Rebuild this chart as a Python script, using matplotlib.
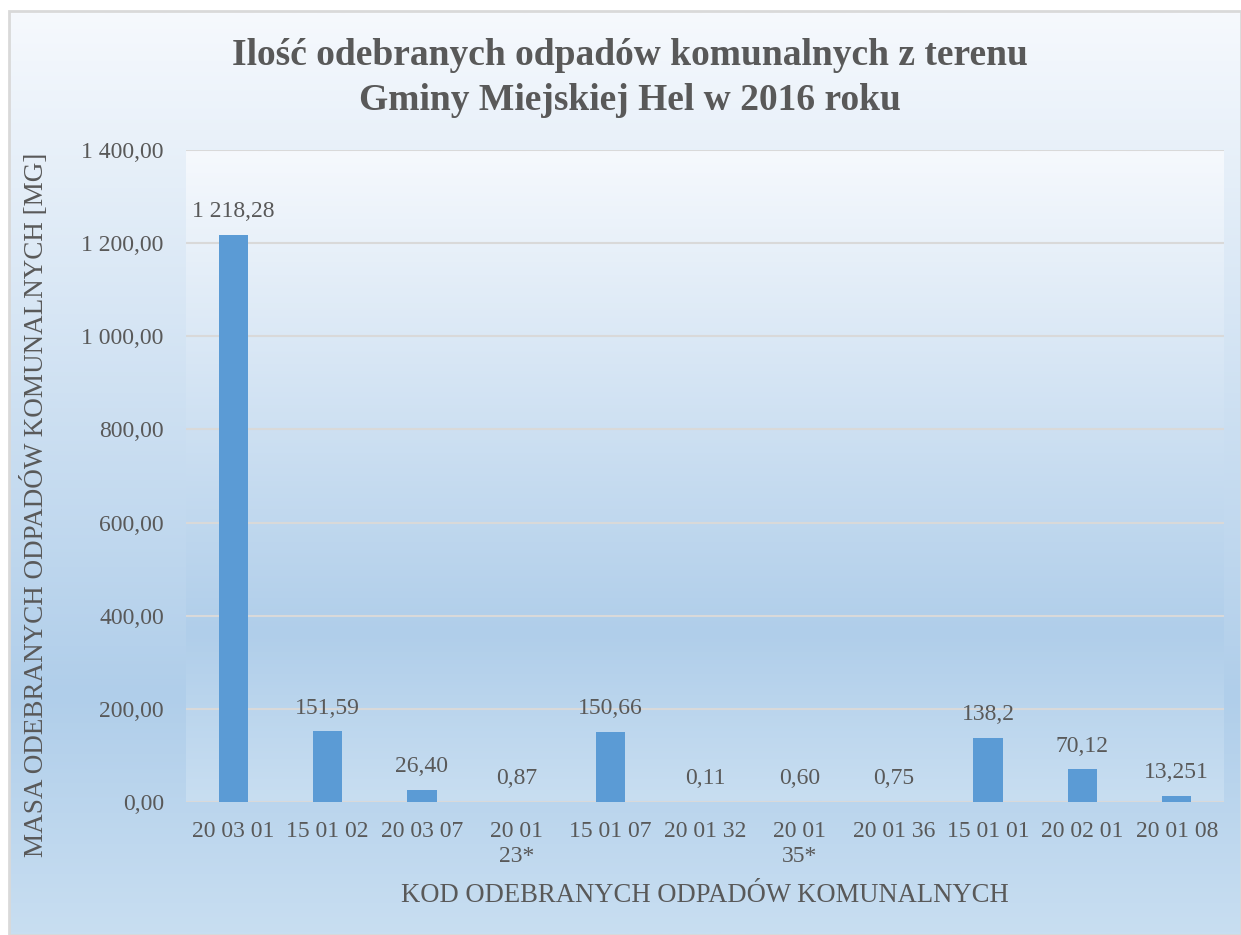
import numpy as np
import matplotlib
matplotlib.use("Agg")
import matplotlib.pyplot as plt
from matplotlib.colors import LinearSegmentedColormap
from matplotlib.patches import Rectangle

categories = ["20 03 01", "15 01 02", "20 03 07", "20 01\n23*", "15 01 07", "20 01 32",
              "20 01\n35*", "20 01 36", "15 01 01", "20 02 01", "20 01 08"]
values = [1218.28, 151.59, 26.40, 0.87, 150.66, 0.11, 0.60, 0.75, 138.2, 70.12, 13.251]
value_labels = ["1 218,28", "151,59", "26,40", "0,87", "150,66", "0,11", "0,60", "0,75",
                "138,2", "70,12", "13,251"]
y_ticks = [0, 200, 400, 600, 800, 1000, 1200, 1400]
y_tick_labels = ["0,00", "200,00", "400,00", "600,00", "800,00", "1 000,00", "1 200,00", "1 400,00"]
title = "Ilość odebranych odpadów komunalnych z terenu\nGminy Miejskiej Hel w 2016 roku"
xlabel = "KOD ODEBRANYCH ODPADÓW KOMUNALNYCH"
ylabel = "MASA ODEBRANYCH ODPADÓW KOMUNALNYCH [MG]"

plt.rcParams['font.family'] = ['Liberation Serif', 'DejaVu Serif']
TXT = "#595959"
BAR = "#5B9BD5"
GRID = "#D9D9D9"

W, H = 1241, 935
fig = plt.figure(figsize=(W / 100, H / 100), dpi=100)
fig.patch.set_facecolor("white")

stops = [(0.0, (246/255, 249/255, 253/255)),
         (0.74, (176/255, 206/255, 234/255)),
         (1.0, (200/255, 222/255, 241/255))]
cmap = LinearSegmentedColormap.from_list("grad", stops)
grad = np.linspace(0, 1, 512).reshape(-1, 1)

# chart area background (inside border)
bx0, by0, bx1, by1 = 9, 11, W, H
bg = fig.add_axes([bx0 / W, 1 - by1 / H, (bx1 - bx0) / W, (by1 - by0) / H], zorder=-10)
bg.imshow(grad, aspect='auto', cmap=cmap, extent=[0, 1, 1, 0])
bg.set_axis_off()
fig.patches.append(Rectangle((bx0 / W, 1 - by1 / H), (bx1 - bx0) / W, (by1 - by0) / H,
                             transform=fig.transFigure, fill=False, edgecolor=GRID,
                             linewidth=2, zorder=-5))

# plot area
px0, py0, px1, py1 = 186, 150, 1224, 802
pos = [px0 / W, 1 - py1 / H, (px1 - px0) / W, (py1 - py0) / H]
pbg = fig.add_axes(pos, zorder=-9)
pbg.imshow(grad, aspect='auto', cmap=cmap, extent=[0, 1, 1, 0])
pbg.set_axis_off()

ax = fig.add_axes(pos)
ax.patch.set_alpha(0)
x = np.arange(len(categories))
bars = ax.bar(x, values, width=0.31, color=BAR, zorder=3)
ax.set_xlim(-0.5, len(categories) - 0.5)
ax.set_ylim(0, 1400)
ax.set_yticks(y_ticks)
ax.set_yticklabels(y_tick_labels)
ax.set_xticks(x)
ax.set_xticklabels(categories, multialignment='center')
ax.tick_params(axis='both', length=0, labelsize=17, colors=TXT)
ax.tick_params(axis='y', pad=16)
ax.tick_params(axis='x', pad=14)
for s in ax.spines.values():
    s.set_visible(False)
ax.grid(axis='y', color=GRID, linewidth=1.5, zorder=1)
ax.axhline(0, color=GRID, linewidth=1.5, zorder=2)

for xi, v, lab in zip(x, values, value_labels):
    ax.annotate(lab, (xi, v), xytext=(0, 9), textcoords='offset points',
                ha='center', va='bottom', fontsize=17, color=TXT)

fig.text(630 / W, 1 - 78 / H, title, ha='center', va='center', fontsize=27,
         fontweight='bold', color=TXT, linespacing=1.35)
fig.text(705 / W, 1 - 895 / H, xlabel, ha='center', va='center', fontsize=19.2, color=TXT)
fig.text(35 / W, 1 - 505 / H, ylabel, ha='center', va='center', fontsize=19.5, color=TXT,
         rotation=90)

fig.savefig("out.png", dpi=100)
